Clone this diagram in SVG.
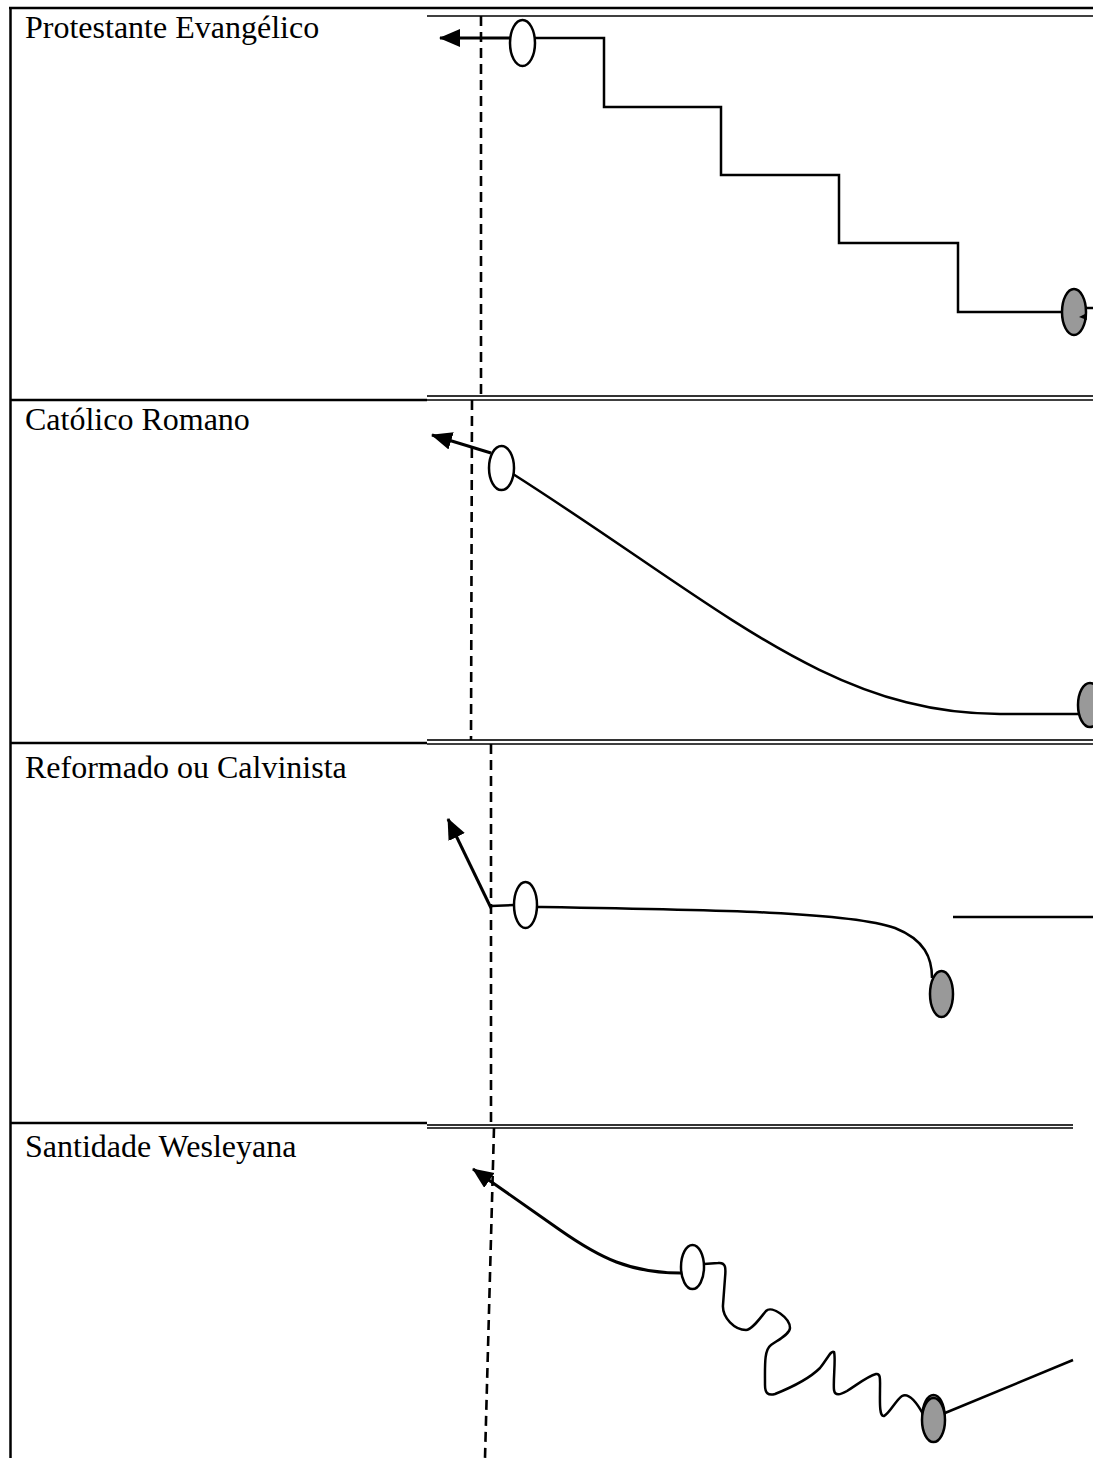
<svg xmlns="http://www.w3.org/2000/svg" width="1093" height="1458" viewBox="0 0 1093 1458">
<style>
.lbl{font-family:"Liberation Serif","Times New Roman",serif;font-size:32px;fill:#000}
.frame{stroke:#000;stroke-width:2.5;fill:none}
.dbl1{stroke:#333;stroke-width:2.2;fill:none}
.dbl2{stroke:#000;stroke-width:1.6;fill:none}
.dash{stroke:#000;stroke-width:2.6;stroke-dasharray:10,6;fill:none}
.ln{stroke:#000;stroke-width:2.5;fill:none}
.arr{stroke:#000;stroke-width:3;fill:none;marker-end:url(#ah)}
.open{fill:#fff;stroke:#000;stroke-width:2.5}
.shut{fill:#999;stroke:#000;stroke-width:2.5}
</style>
<defs>
<marker id="ah" markerUnits="userSpaceOnUse" markerWidth="24" markerHeight="20" refX="20" refY="9" orient="auto">
<path d="M0,0 L21,9 L0,18 z" fill="#000"/>
</marker>
</defs>
<rect width="1093" height="1458" fill="#fff"/>
<g id="table">
<line class="frame" x1="9" y1="8" x2="1093" y2="8"/>
<line class="frame" x1="10.5" y1="7" x2="10.5" y2="1458"/>
<line class="frame" x1="10" y1="400" x2="427" y2="400"/>
<line class="frame" x1="10" y1="743" x2="427" y2="743"/>
<line class="frame" x1="10" y1="1123" x2="427" y2="1123"/>
<line class="dbl2" x1="427" y1="16" x2="1093" y2="16"/>
<line class="dbl1" x1="427" y1="396" x2="1093" y2="396"/>
<line class="dbl2" x1="427" y1="400" x2="1093" y2="400"/>
<line class="dbl1" x1="427" y1="740" x2="1093" y2="740"/>
<line class="dbl2" x1="427" y1="744" x2="1093" y2="744"/>
<line class="dbl1" x1="427" y1="1125" x2="1073" y2="1125"/>
<line class="dbl2" x1="427" y1="1128" x2="1073" y2="1128"/>
</g>
<g id="labels">
<text class="lbl" x="25" y="38">Protestante Evangélico</text>
<text class="lbl" x="25" y="430">Católico Romano</text>
<text class="lbl" x="25" y="778">Reformado ou Calvinista</text>
<text class="lbl" x="25" y="1157">Santidade Wesleyana</text>
</g>
<g id="connectors">
<line class="dash" x1="481" y1="16" x2="481" y2="396"/>
<line class="dash" x1="472" y1="400" x2="471" y2="740"/>
<line class="dash" x1="491" y1="744" x2="491" y2="1125"/>
<line class="dash" x1="494" y1="1128" x2="485" y2="1458"/>
<!-- section 1 -->
<line class="arr" x1="510" y1="38" x2="440" y2="38"/>
<polyline class="ln" points="535,38 604,38 604,107 721,107 721,175 839,175 839,243 958,243 958,312 1062,312"/>
<line class="ln" x1="1086" y1="308" x2="1093" y2="308"/>
<!-- section 2 -->
<line class="arr" x1="491" y1="453" x2="432" y2="435"/>
<path class="ln" d="M513,474 C720,606 830,714 1000,714 L1079,714"/>
<!-- section 3 -->
<line class="ln" x1="491" y1="906" x2="514" y2="905"/>
<line class="arr" x1="491" y1="908" x2="448" y2="819"/>
<path class="ln" d="M537,907 C720,910 850,912 895,928 C925,940 932,958 932,978"/>
<line class="ln" x1="953" y1="917" x2="1093" y2="917"/>
<!-- section 4 -->
<path class="arr" d="M681,1273 C630,1273 600,1258 560,1230 L473,1169"/>
<path class="ln" d="M704,1264 L718,1263 C726,1262 726,1268 725,1278 L723,1305 C722,1318 735,1330 746,1330 C752,1330 760,1318 766,1311 C772,1305 790,1318 790,1328 C790,1334 778,1340 771,1345 C764,1350 765,1365 765,1385 C765,1393 768,1396 775,1394 C790,1388 810,1378 820,1368 C828,1358 831,1350 834,1352 C836,1358 833,1380 834,1390 C835,1396 840,1395 847,1391 C858,1384 868,1376 876,1374 C881,1373 880,1380 880,1390 C880,1400 879,1417 884,1416 C889,1414 896,1400 902,1396 C910,1392 918,1405 923,1414"/>
<line class="ln" x1="945" y1="1413" x2="1073" y2="1360"/>
</g>
<g id="node-pe-start"><ellipse class="open" cx="522.5" cy="43" rx="12.5" ry="23"/></g>
<g id="node-pe-end"><ellipse class="shut" cx="1074" cy="312" rx="12" ry="23"/><polygon points="1079,317 1086,313.5 1087,320" fill="#000"/></g>
<g id="node-cr-start"><ellipse class="open" cx="501.5" cy="468" rx="12.5" ry="22"/></g>
<g id="node-cr-end"><ellipse class="shut" cx="1090" cy="705" rx="12" ry="22"/></g>
<g id="node-rc-start"><ellipse class="open" cx="525.5" cy="905" rx="11.5" ry="23"/></g>
<g id="node-rc-end"><ellipse class="shut" cx="941.5" cy="994" rx="11.5" ry="23"/></g>
<g id="node-sw-start"><ellipse class="open" cx="692.5" cy="1267" rx="11.5" ry="22"/></g>
<g id="node-sw-end"><ellipse class="shut" cx="933.5" cy="1416" rx="11" ry="21"/><ellipse class="shut" cx="933.5" cy="1420" rx="11.5" ry="22"/></g>
</svg>
